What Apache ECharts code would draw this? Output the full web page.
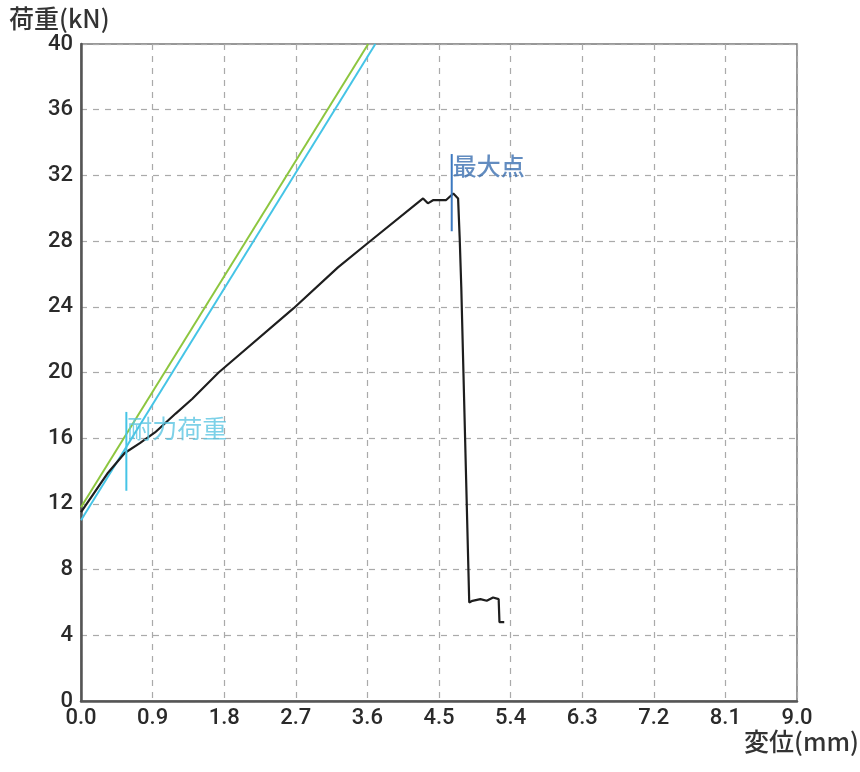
<!DOCTYPE html>
<html><head><meta charset="utf-8">
<script src="https://cdn.jsdelivr.net/npm/echarts@6/dist/echarts.min.js"></script>
<style>html,body{margin:0;padding:0;background:#fff}#c{width:860px;height:772px}</style>
</head><body><div id="c"></div>
<script>
const xTicks = ['0.0','0.9','1.8','2.7','3.6','4.5','5.4','6.3','7.2','8.1','9.0'];
const yTicks = [0,4,8,12,16,20,24,28,32,36,40];
const curveX = [0, 0.34, 0.55, 0.74, 0.93, 1.19, 1.40, 1.73, 2.67, 3.23, 3.61, 4.30, 4.36, 4.43, 4.59, 4.68, 4.74, 4.76, 4.78, 4.88, 4.92, 5.02, 5.10, 5.18, 5.25, 5.26, 5.32];
const curveY = [11.5, 13.9, 15.1, 15.7, 16.35, 17.5, 18.4, 20.0, 23.9, 26.4, 27.9, 30.6, 30.3, 30.5, 30.5, 30.9, 30.6, 28.2, 25.2, 6.0, 6.1, 6.2, 6.1, 6.3, 6.2, 4.8, 4.8];
const greenX = [0, 3.61];
const greenY = [11.8, 40];
const cyanX = [0, 3.70];
const cyanY = [11.0, 40];
const yieldMarkX = [0.57, 0.57];
const yieldMarkY = [12.8, 17.6];
const maxMarkX = [4.66, 4.66];
const maxMarkY = [28.6, 33.3];
const yieldLabel = '耐力荷重';
const maxLabel = '最大点';
const yieldLabelPos = [0.57, 16.6];
const maxLabelPos = [4.66, 32.6];

const zip = (a, b) => a.map((v, i) => [v, b[i]]);
const chart = echarts.init(document.getElementById('c'));
const font = 'Roboto, "Liberation Sans", Arial, sans-serif';
const cjk = '"Noto Sans CJK JP", sans-serif';
chart.setOption({
  animation: false,
  grid: {left: 81, right: 63, top: 44, bottom: 71, show: true, borderColor: '#777', borderWidth: 1.5},
  xAxis: {
    type: 'value', min: 0, max: 9, interval: 0.9,
    axisLine: {lineStyle: {color: '#555', width: 2.5}},
    axisTick: {show: false},
    axisLabel: {color: '#2a2a2a', fontSize: 22, fontWeight: 500, fontFamily: font, margin: 6, formatter: v => xTicks[Math.round(v / 0.9)]},
    splitLine: {show: true, lineStyle: {color: '#aaa', type: [6, 6], width: 1.2}}
  },
  yAxis: {
    type: 'value', min: 0, max: 40, interval: 4,
    axisLine: {show: true, lineStyle: {color: '#555', width: 2.5}},
    axisTick: {show: false},
    axisLabel: {color: '#2a2a2a', fontSize: 22, fontWeight: 500, fontFamily: font, margin: 8, formatter: v => String(yTicks[Math.round(v / 4)])},
    splitLine: {show: true, lineStyle: {color: '#aaa', type: [6, 6], width: 1.2}}
  },
  graphic: [
    {type: 'text', left: 9, top: 6, style: {text: '荷重(kN)', fontSize: 25, fontWeight: 500, fontFamily: cjk, fill: '#333'}},
    {type: 'text', left: 744, top: 729, style: {text: '変位(mm)', fontSize: 25, fontWeight: 500, fontFamily: cjk, fill: '#333'}}
  ],
  series: [
    {type: 'line', data: zip(greenX, greenY), symbol: 'none', lineStyle: {color: '#8dc63f', width: 2}, z: 3},
    {type: 'line', data: zip(cyanX, cyanY), symbol: 'none', lineStyle: {color: '#45c4e6', width: 2}, z: 3},
    {type: 'line', data: zip(curveX, curveY), symbol: 'none', lineStyle: {color: '#1e1e1e', width: 2.2}, z: 4},
    {type: 'line', data: zip(yieldMarkX, yieldMarkY), symbol: 'none', lineStyle: {color: '#45c4e6', width: 2}, z: 5},
    {type: 'line', data: zip(maxMarkX, maxMarkY), symbol: 'none', lineStyle: {color: '#3b78c0', width: 2}, z: 5},
    {type: 'scatter', symbolSize: 0, data: [yieldLabelPos], z: 6,
      label: {show: true, position: 'right', distance: 1, formatter: yieldLabel, color: '#5cc6e2', fontSize: 25, fontFamily: cjk}},
    {type: 'scatter', symbolSize: 0, data: [maxLabelPos], z: 6,
      label: {show: true, position: 'right', distance: 1, formatter: maxLabel, color: '#3b6fb0', fontSize: 24, fontWeight: 500, fontFamily: cjk}}
  ]
});
</script></body></html>
